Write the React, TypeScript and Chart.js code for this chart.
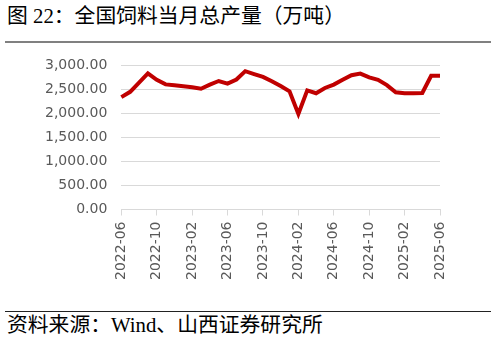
import React, { useEffect, useRef } from "react";
import { Chart, registerables } from "chart.js";

Chart.register(...registerables);

const months: string[] = [
  "2022-06", "2022-07", "2022-08", "2022-09", "2022-10", "2022-11", "2022-12",
  "2023-01", "2023-02", "2023-03", "2023-04", "2023-05", "2023-06", "2023-07",
  "2023-08", "2023-09", "2023-10", "2023-11", "2023-12", "2024-01", "2024-02",
  "2024-03", "2024-04", "2024-05", "2024-06", "2024-07", "2024-08", "2024-09",
  "2024-10", "2024-11", "2024-12", "2025-01", "2025-02", "2025-03", "2025-04",
  "2025-05", "2025-06",
];

const feedOutput: number[] = [
  2340, 2450, 2640, 2835, 2700, 2605, 2585,
  2565, 2545, 2515, 2600, 2675, 2620, 2705,
  2880, 2820, 2760, 2670, 2570, 2460, 1990,
  2480, 2420, 2530, 2600, 2700, 2795, 2830,
  2750, 2700, 2590, 2440, 2420, 2420, 2425,
  2785, 2785,
];

const yMin = 0;
const yMax = 3000;
const yStep = 500;
const labelEvery = 4;

const titleText = "图 22：全国饲料当月总产量（万吨）";
const sourceText = "资料来源：Wind、山西证券研究所";

export default function App() {
  const canvasRef = useRef<HTMLCanvasElement | null>(null);

  useEffect(() => {
    document.body.style.margin = "0";
    const canvas = canvasRef.current;
    if (!canvas) return;
    const chart = new Chart(canvas, {
      type: "line",
      data: {
        labels: months,
        datasets: [
          {
            data: feedOutput,
            borderColor: "#c00000",
            borderWidth: 4,
            pointRadius: 0,
            tension: 0,
            fill: false,
          },
        ],
      },
      options: {
        animation: false,
        responsive: false,
        maintainAspectRatio: false,
        layout: { padding: { left: 31, right: 56, top: 8, bottom: 2 } },
        plugins: { legend: { display: false }, tooltip: { enabled: false } },
        scales: {
          x: {
            offset: false,
            border: { display: true, color: "#d9d9d9", width: 1 },
            grid: {
              drawOnChartArea: false,
              drawTicks: true,
              tickLength: 6,
              color: (ctx: any) =>
                ctx.index % labelEvery === 0 ? "#d9d9d9" : "rgba(0,0,0,0)",
            },
            ticks: {
              autoSkip: false,
              minRotation: 90,
              maxRotation: 90,
              padding: 6,
              color: "#595959",
              font: { family: "DejaVu Sans", size: 14 },
              callback: (_v: any, i: number) =>
                i % labelEvery === 0 ? months[i] : "",
            },
          },
          y: {
            min: yMin,
            max: yMax,
            border: { display: false },
            grid: { color: "#d9d9d9", lineWidth: 1, drawTicks: false },
            ticks: {
              stepSize: yStep,
              padding: 14,
              color: "#595959",
              font: { family: "DejaVu Sans", size: 14 },
              callback: (v: any) =>
                Number(v).toLocaleString("en-US", {
                  minimumFractionDigits: 2,
                  maximumFractionDigits: 2,
                }),
            },
          },
        },
      },
    });
    return () => chart.destroy();
  }, []);

  return (
    <div
      style={{
        position: "fixed",
        left: 0,
        top: 0,
        width: 496,
        height: 341,
        background: "#fff",
        overflow: "hidden",
      }}
    >
      <div
        style={{
          position: "absolute",
          left: 7,
          top: 3,
          fontSize: 20.8,
          lineHeight: "26px",
          fontFamily: '"Liberation Serif", "Noto Sans CJK SC", sans-serif',
          color: "#000",
          whiteSpace: "nowrap",
        }}
      >
        {titleText}
      </div>
      <div
        style={{
          position: "absolute",
          left: 5,
          top: 41,
          width: 486,
          height: 2,
          background: "#808080",
        }}
      />
      <canvas
        ref={canvasRef}
        width={496}
        height={245}
        style={{ position: "absolute", left: 0, top: 43, width: 496, height: 245 }}
      />
      <div
        style={{
          position: "absolute",
          left: 5,
          top: 311,
          width: 486,
          height: 1,
          background: "#222",
        }}
      />
      <div
        style={{
          position: "absolute",
          left: 7,
          top: 312,
          fontSize: 20.8,
          lineHeight: "26px",
          fontFamily: '"Liberation Serif", "Noto Sans CJK SC", serif',
          color: "#000",
          whiteSpace: "nowrap",
        }}
      >
        {sourceText}
      </div>
    </div>
  );
}
